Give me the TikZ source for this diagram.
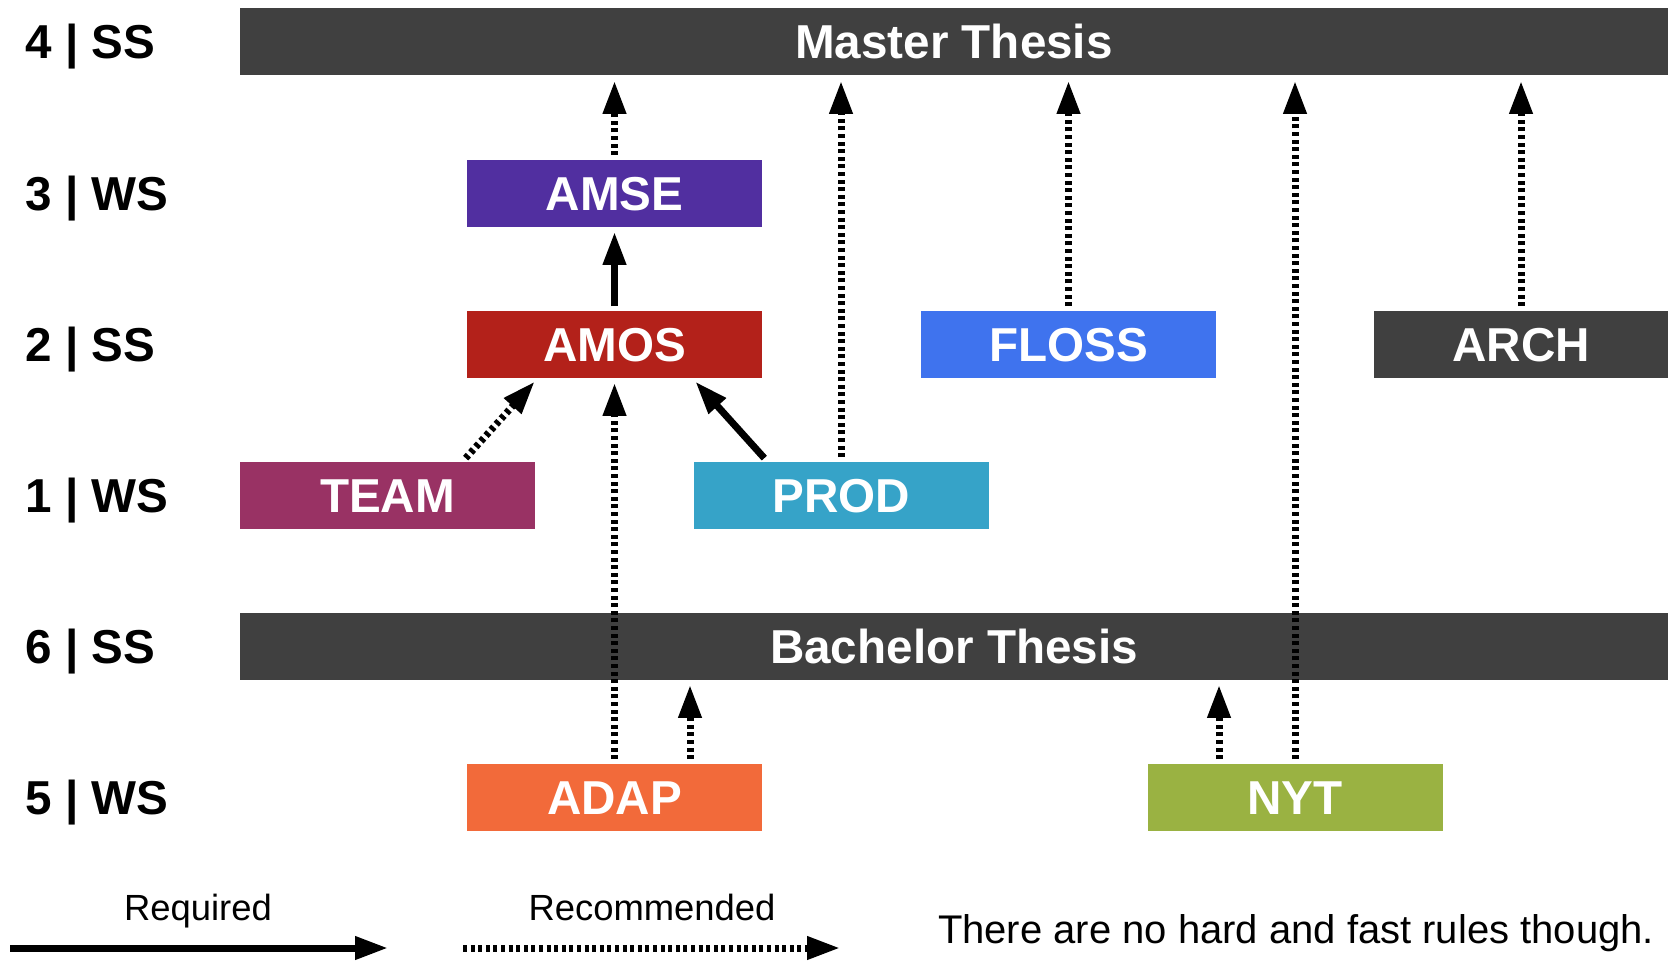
\documentclass[tikz,border=0pt]{standalone}
\usepackage{fontspec}
\setmainfont{Liberation Sans}
\usepackage{xcolor}
\usepackage{tikz}
\usetikzlibrary{arrows.meta}

\definecolor{barcol}{HTML}{404040}
\definecolor{amsecol}{HTML}{512FA0}
\definecolor{amoscol}{HTML}{B3211A}
\definecolor{flosscol}{HTML}{3F73EE}
\definecolor{teamcol}{HTML}{993264}
\definecolor{prodcol}{HTML}{36A3C8}
\definecolor{adapcol}{HTML}{F26A3A}
\definecolor{nytcol}{HTML}{9AB242}

\tikzset{
  course/.style={minimum width=147.5pt, minimum height=33.5pt, inner sep=0pt,
    text=white, font=\fontsize{23.8}{28}\selectfont\bfseries,
    text height=17pt, text depth=0pt},
  thesis/.style={course, fill=barcol, minimum width=714pt},
  semester/.style={anchor=west, inner sep=0pt,
    font=\fontsize{23.8}{28}\selectfont\bfseries,
    text height=17pt, text depth=0pt},
  reqarrow/.style={line width=3.5pt, -{Triangle[length=16.5pt,width=11pt]},
    shorten >=2.5pt, shorten <=2pt},
  recarrow/.style={reqarrow, line width=3.5pt, dash pattern=on 2pt off 1.8pt}
}

\begin{document}
\begin{tikzpicture}[x=0.5pt, y=-0.5pt]
        \useasboundingbox (0,0) rectangle (1668,963);

        % Semester labels
        \node (s4) at (25,42) [semester] {4 | SS};
        \node (s3) at (25,193) [semester] {3 | WS};
        \node (s2) at (25,344) [semester] {2 | SS};
        \node (s1) at (25,495) [semester] {1 | WS};
        \node (s6) at (25,646) [semester] {6 | SS};
        \node (s5) at (25,797) [semester] {5 | WS};

        % Theses
        \node (master) at (954,42) [thesis] {Master Thesis};
        \node (bachelor) at (954,646) [thesis] {Bachelor Thesis};

        % Courses
        \node (amse) at (614.5,193) [course, fill=amsecol] {AMSE};
        \node (amos) at (614.5,344) [course, fill=amoscol] {AMOS};
        \node (floss) at (1068.5,344) [course, fill=flosscol] {FLOSS};
        \node (arch) at (1521,344) [course, fill=barcol] {ARCH};
        \node (team) at (387.5,495) [course, fill=teamcol] {TEAM};
        \node (prod) at (841,495) [course, fill=prodcol] {PROD};
        \node (adap) at (614.5,797) [course, fill=adapcol] {ADAP};
        \node (nyt) at (1295,797) [course, fill=nytcol] {NYT};

        % Arrows to the master thesis
        \draw[recarrow] (amse.north) -- (amse.north |- master.south);
        \draw[recarrow] (prod.north) -- (prod.north |- master.south);
        \draw[recarrow] (floss.north) -- (floss.north |- master.south);
        \draw[recarrow] (nyt.north) -- (nyt.north |- master.south);
        \draw[recarrow] (arch.north) -- (arch.north |- master.south);

        % Arrows between courses
        \draw[reqarrow] (amos.north) -- (amse.south);
        \draw[recarrow] ([xshift=37.75pt]team.north) -- ([xshift=-38.25pt]amos.south);
        \draw[reqarrow] ([xshift=-37pt]prod.north) -- ([xshift=38.75pt]amos.south);
        \draw[recarrow] (adap.north) -- (amos.south);

        % Arrows to the bachelor thesis
        \draw[recarrow] ([xshift=37.75pt]adap.north) -- ([xshift=37.75pt]adap.north |- bachelor.south);
        \draw[recarrow] ([xshift=-38pt]nyt.north) -- ([xshift=-38pt]nyt.north |- bachelor.south);

        % Legend
        \node (reqlabel) at (198,920) [anchor=base, font=\fontsize{18.2}{22}\selectfont] {Required};
        \node (reclabel) at (652,920) [anchor=base, font=\fontsize{18.2}{22}\selectfont] {Recommended};
        \node (note) at (1296,943) [anchor=base, font=\fontsize{20}{24}\selectfont] {There are no hard and fast rules though.};
        \coordinate (reqfrom) at (10,948);
        \coordinate (reqto) at (388,948);
        \coordinate (recfrom) at (463,948);
        \coordinate (recto) at (840,948);
        \draw[reqarrow, shorten >=0pt, shorten <=0pt] (reqfrom) -- (reqto);
        \draw[recarrow, shorten >=0pt, shorten <=0pt] (recfrom) -- (recto);
    \end{tikzpicture}
\end{document}
